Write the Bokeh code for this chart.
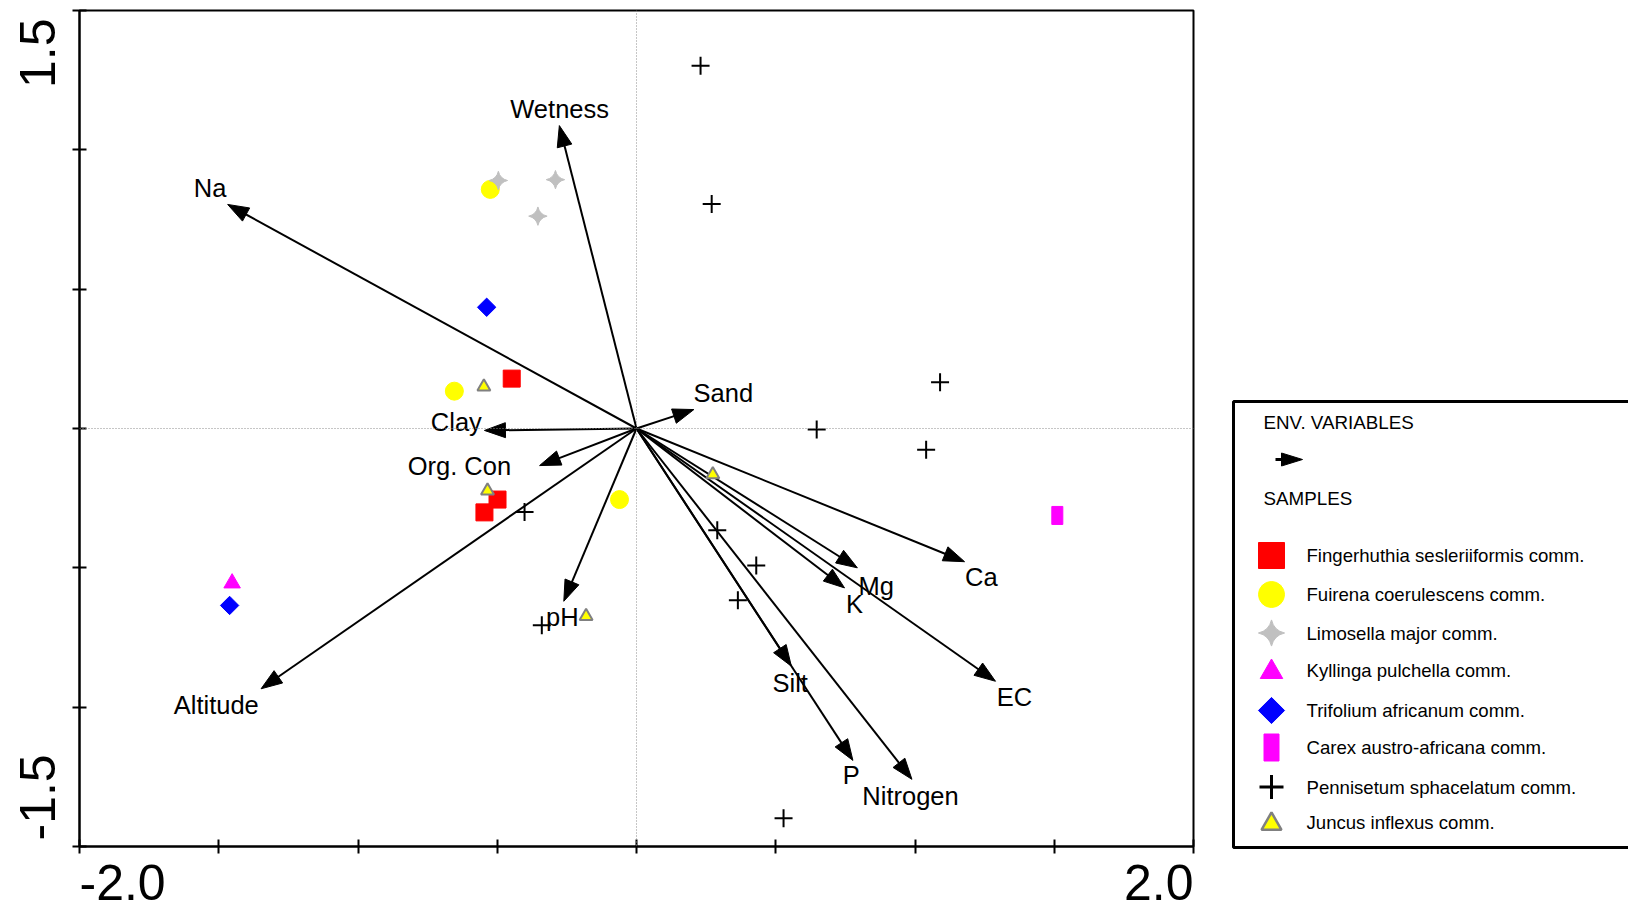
import numpy as np
from bokeh.plotting import figure
from bokeh.models import Range1d, Span, FixedTicker
from bokeh.embed import file_html
from bokeh.resources import INLINE
from bokeh.core.properties import value

FONT = "Liberation Sans"

# ---------------- data ----------------
env_names = ["Wetness", "Na", "Sand", "Clay", "Org. Con", "pH", "Altitude",
             "Ca", "Mg", "K", "EC", "Silt", "P", "Nitrogen"]
env_x = [-0.277, -1.468, 0.206, -0.546, -0.348, -0.261, -1.348,
         1.178, 0.793, 0.747, 1.289, 0.556, 0.777, 0.989]
env_y = [1.087, 0.804, 0.068, -0.007, -0.133, -0.620, -0.934,
         -0.478, -0.500, -0.572, -0.907, -0.853, -1.191, -1.259]
label_x = [-0.276, -1.531, 0.312, -0.647, -0.636, -0.266, -1.509,
           1.238, 0.861, 0.783, 1.357, 0.552, 0.771, 0.984]
label_y = [1.145, 0.864, 0.129, 0.022, -0.135, -0.678, -0.994,
           -0.534, -0.566, -0.628, -0.964, -0.913, -1.245, -1.319]

fing_x = [-0.448, -0.499, -0.546]
fing_y = [0.179, -0.255, -0.301]
fuir_x = [-0.654, -0.061, -0.525]
fuir_y = [0.134, -0.255, 0.858]
limo_x = [-0.496, -0.291, -0.354]
limo_y = [0.890, 0.893, 0.762]
kyll_x = [-1.452]
kyll_y = [-0.555]
trif_x = [-0.538, -1.461]
trif_y = [0.435, -0.635]
carex_x = [1.511]
carex_y = [-0.312]
penn_x = [0.230, 0.270, 1.090, 0.647, 1.040, -0.402, 0.290, 0.430, 0.364, -0.340, 0.528]
penn_y = [1.302, 0.806, 0.166, -0.004, -0.076, -0.300, -0.365, -0.492, -0.616, -0.706, -1.399]
junc_x = [-0.548, -0.535, -0.181, 0.274]
junc_y = [0.150, -0.223, -0.674, -0.165]

x_ticks = [-2.0, -1.5, -1.0, -0.5, 0.0, 0.5, 1.0, 1.5, 2.0]
y_ticks = [-1.5, -1.0, -0.5, 0.0, 0.5, 1.0, 1.5]
x_end_labels = ["-2.0", "2.0"]
y_end_labels = ["-1.5", "1.5"]

legend_headers = ["ENV. VARIABLES", "SAMPLES"]
legend_names = ["Fingerhuthia sesleriiformis comm.", "Fuirena coerulescens comm.",
                "Limosella major comm.", "Kyllinga pulchella comm.",
                "Trifolium africanum comm.", "Carex austro-africana comm.",
                "Pennisetum sphacelatum comm.", "Juncus inflexus comm."]

# ---------------- main plot ----------------
FW, FH = 1114, 836
FL, FT = 79, 10                      # frame left / top on the page
XMIN, XMAX, YMIN, YMAX = -2.0, 2.0, -1.5, 1.5
PW, PH = 1628, 911

p = figure(x_range=Range1d(XMIN, XMAX), y_range=Range1d(YMIN, YMAX),
           frame_width=FW, frame_height=FH,
           min_border_left=FL, min_border_right=10, min_border_top=FT,
           min_border_bottom=PH - FT - FH,
           output_backend="svg", toolbar_location=None, title=None,
           background_fill_color="white", border_fill_color="white")
p.grid.visible = False
p.outline_line_color = "black"
p.outline_line_width = 2
p.outline_line_alpha = 1.0

p.xaxis.ticker = FixedTicker(ticks=x_ticks)
p.yaxis.ticker = FixedTicker(ticks=y_ticks)
for ax in (p.xaxis[0], p.yaxis[0]):
    ax.axis_line_width = 2
    ax.axis_line_color = "black"
    ax.major_tick_line_width = 2
    ax.major_tick_line_color = "black"
    ax.major_tick_in = 7
    ax.major_tick_out = 7
    ax.minor_tick_line_color = None
    ax.minor_tick_out = 0
    ax.minor_tick_in = 0
    ax.major_label_text_color = None
    ax.major_label_standoff = 0

p.add_layout(Span(location=0, dimension="height", line_color="#8c8c8c",
                  line_width=1, line_dash="1 2"))
p.add_layout(Span(location=0, dimension="width", line_color="#8c8c8c",
                  line_width=1, line_dash="1 2"))

# variable labels
p.text(x=label_x, y=label_y, text=env_names, text_align="center", text_baseline="middle",
       text_font=value(FONT), text_font_size="25.5px", text_color="black")

# arrows (line + filled head computed in screen space)
sx = FW / (XMAX - XMIN)
sy = FH / (YMAX - YMIN)
ex = np.array(env_x) * sx
ey = np.array(env_y) * sy
ln = np.hypot(ex, ey)
ux, uy = ex / ln, ey / ln
HL, HW = 21.0, 7.5
bx, by = ex - HL * ux, ey - HL * uy
px_, py_ = -uy, ux
head_xs = [[ex[i] / sx, (bx[i] + HW * px_[i]) / sx, (bx[i] - HW * px_[i]) / sx] for i in range(len(ex))]
head_ys = [[ey[i] / sy, (by[i] + HW * py_[i]) / sy, (by[i] - HW * py_[i]) / sy] for i in range(len(ex))]
seg_x1 = (bx + 0.5 * HL * ux) / sx
seg_y1 = (by + 0.5 * HL * uy) / sy
p.segment(x0=[0.0] * len(ex), y0=[0.0] * len(ex), x1=seg_x1, y1=seg_y1,
          line_color="black", line_width=2)
p.patches(xs=head_xs, ys=head_ys, fill_color="black", line_color="black", line_width=1)

# samples
p.scatter(fing_x, fing_y, marker="square", size=17, fill_color="#ff0000", line_color="#ff0000")
p.scatter(fuir_x, fuir_y, marker="circle", size=18, fill_color="#ffff00", line_color="#ffff00")
p.scatter(limo_x, limo_y, marker="square_pin", angle=np.pi / 4, size=13,
          fill_color="#c0c0c0", line_color="#c0c0c0")
p.scatter(kyll_x, kyll_y, marker="triangle", size=16.5, fill_color="#ff00ff", line_color="#ff00ff")
p.scatter(trif_x, trif_y, marker="square", angle=np.pi / 4, size=13,
          fill_color="#0000ff", line_color="#0000ff")
p.rect(carex_x, carex_y, width=11, height=18, width_units="screen", height_units="screen",
       fill_color="#ff00ff", line_color="#ff00ff")
p.scatter(penn_x, penn_y, marker="cross", size=18, line_color="black", line_width=2)
p.scatter(junc_x, junc_y, marker="triangle", size=13, fill_color="#ffff00",
          line_color="#808080", line_width=2)

# ---------------- transparent page overlay: end tick labels + legend ----------------
ov = figure(x_range=Range1d(0, PW), y_range=Range1d(PH, 0),
            width=PW, height=PH, min_border=0,
            x_axis_type=None, y_axis_type=None,
            output_backend="svg", toolbar_location=None, title=None,
            background_fill_color=None, border_fill_color=None,
            styles={"position": "absolute", "left": "0px", "top": "0px"})
ov.grid.visible = False
ov.outline_line_color = None

FR, FB = FL + FW, FT + FH            # frame right / bottom on the page
TICK_FONT = "50px"
# x-axis end labels: flush with the frame's left and right edges
ov.text(x=[FL, FR], y=[FB + 36, FB + 36], text=x_end_labels,
        text_align=["left", "right"], text_baseline="middle",
        text_font=value(FONT), text_font_size=TICK_FONT, text_color="black")
# y-axis end labels (rotated): flush with the frame's bottom and top edges
ov.text(x=[FL - 42.5, FL - 42.5], y=[FB - 6, FT + 8], text=y_end_labels,
        angle=np.pi / 2, text_align=["left", "right"], text_baseline="middle",
        text_font=value(FONT), text_font_size=TICK_FONT, text_color="black")

# legend box
ov.quad(left=[1233], right=[1700], top=[401], bottom=[847], fill_color=None,
        line_color="black", line_width=3)
ov.text(x=[1263, 1263], y=[422, 498], text=legend_headers,
        text_align="left", text_baseline="middle", text_font=value(FONT),
        text_font_size="18.8px", text_color="black")
# legend arrow
ov.segment(x0=[1275], y0=[459], x1=[1285], y1=[459], line_color="black", line_width=3)
ov.patches(xs=[[1302, 1281, 1281]], ys=[[459, 452.5, 465.5]], fill_color="black", line_color="black")

leg_y = [555, 594, 632.5, 669.5, 710, 747, 786.5, 821.5]
mx = 1271
ov.scatter([mx], [leg_y[0]], marker="square", size=26, fill_color="#ff0000", line_color="#ff0000")
ov.scatter([mx], [leg_y[1]], marker="circle", size=26, fill_color="#ffff00", line_color="#ffff00")
ov.scatter([mx], [leg_y[2]], marker="square_pin", angle=np.pi / 4, size=18.5,
           fill_color="#c0c0c0", line_color="#c0c0c0")
ov.scatter([mx], [leg_y[3] + 2], marker="triangle", size=22.5, fill_color="#ff00ff", line_color="#ff00ff")
ov.scatter([mx], [leg_y[4]], marker="square", angle=np.pi / 4, size=18.5,
           fill_color="#0000ff", line_color="#0000ff")
ov.rect([mx], [leg_y[5]], width=15, height=27, fill_color="#ff00ff", line_color="#ff00ff")
ov.scatter([mx], [leg_y[6]], marker="cross", size=24, line_color="black", line_width=3)
ov.scatter([mx], [leg_y[7] + 2], marker="triangle", size=20, fill_color="#ffff00",
           line_color="#808080", line_width=2.5)
ov.text(x=[1306] * len(legend_names), y=leg_y, text=legend_names,
        text_align="left", text_baseline="middle", text_font=value(FONT),
        text_font_size="18.6px", text_color="black")

open("out.html", "w").write(file_html([p, ov], INLINE))
